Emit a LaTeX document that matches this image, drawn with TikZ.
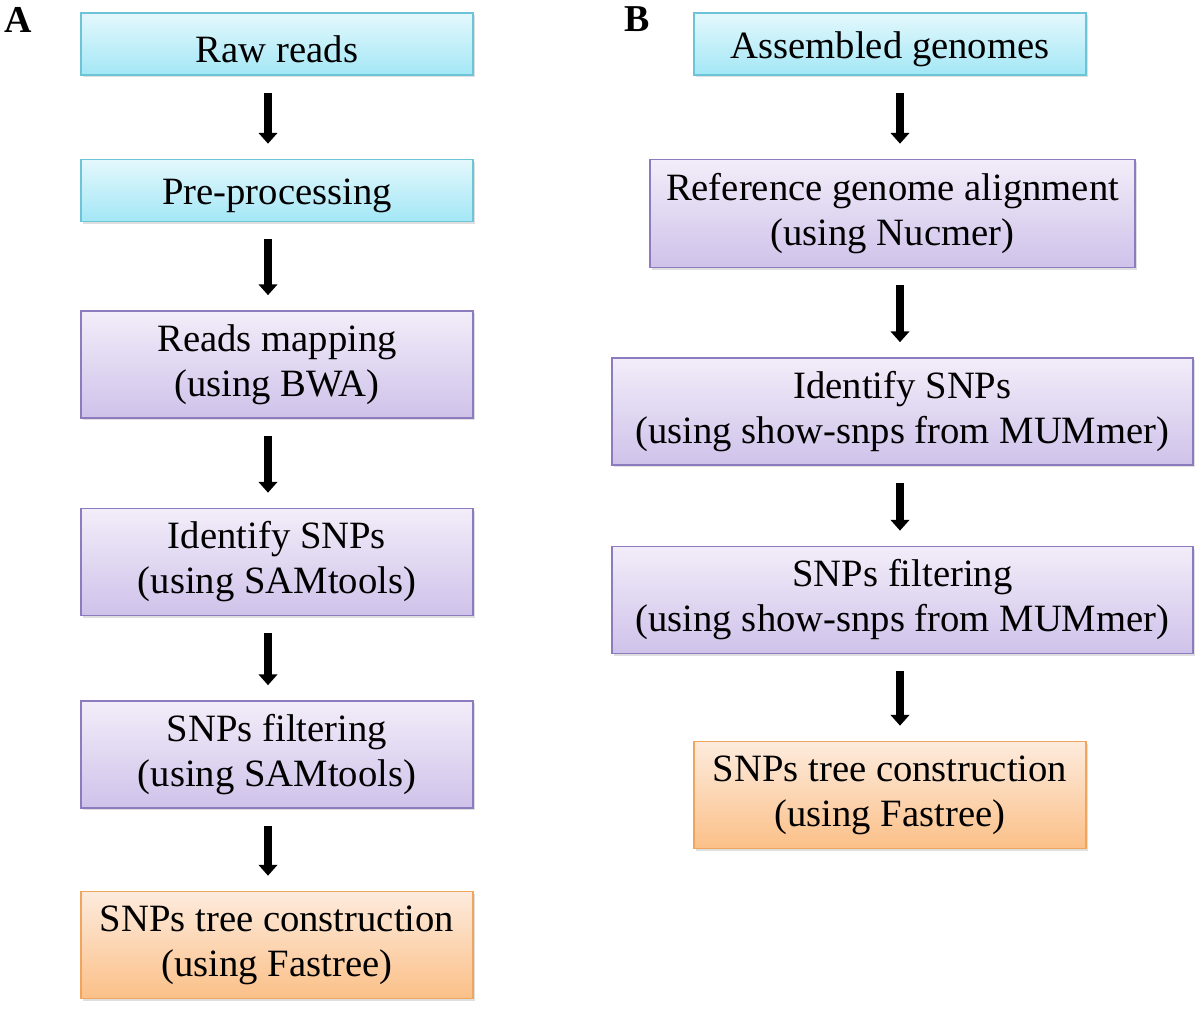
\documentclass[tikz,border=0pt]{standalone}
\usepackage{fontspec}
\setmainfont{Liberation Serif}
\usetikzlibrary{arrows.meta}
\usetikzlibrary{shadows}

\definecolor{cyanTop}{HTML}{E4F8FC}
\definecolor{cyanBot}{HTML}{A3E7F6}
\definecolor{cyanLine}{HTML}{6CC4D6}
\definecolor{lilacTop}{HTML}{F2EDF9}
\definecolor{lilacBot}{HTML}{CFC2EA}
\definecolor{lilacLine}{HTML}{8C7BBF}
\definecolor{peachTop}{HTML}{FDEBDD}
\definecolor{peachBot}{HTML}{FBC088}
\definecolor{peachLine}{HTML}{F0A55E}

\begin{document}
\begin{tikzpicture}[
	box/.style = {draw, line width = 0.9pt, align = center, inner sep = 0pt,
		font = \fontsize{27.5}{32}\selectfont,
		execute at begin node = {\rule{0pt}{0.95em}},
		drop shadow = {opacity = 0.25, shadow xshift = 0.06cm, shadow yshift = -0.06cm}},
	inbox/.style = {box, draw = cyanLine, top color = cyanTop, bottom color = cyanBot},
	toolbox/.style = {box, draw = lilacLine, top color = lilacTop, bottom color = lilacBot},
	outbox/.style = {box, draw = peachLine, top color = peachTop, bottom color = peachBot},
	flow/.style = {black, line width = 0.19cm, shorten <= 0.43cm, shorten >= 0.38cm,
		-{Triangle[width = 0.46cm, length = 0.27cm]}},
	panel/.style = {font = \fontsize{27}{27}\selectfont\bfseries, anchor = north west}
]
	\useasboundingbox (0, 0) rectangle (30, -25.225);

	% panel A
	\node[panel] (labA) at (-0.02, -0.05) {A};
	\node[inbox, minimum width = 9.8cm, minimum height = 1.55cm] (raw) at (6.925, -1.1) {Raw reads};
	\node[inbox, minimum width = 9.8cm, minimum height = 1.55cm] (pre) at (6.925, -4.7625) {Pre-processing};
	\node[toolbox, minimum width = 9.8cm, minimum height = 2.675cm] (map) at (6.925, -9.1125) {Reads mapping\\(using BWA)};
	\node[toolbox, minimum width = 9.8cm, minimum height = 2.675cm] (snpA) at (6.925, -14.05) {Identify SNPs\\(using SAMtools)};
	\node[toolbox, minimum width = 9.8cm, minimum height = 2.675cm] (filtA) at (6.925, -18.8625) {SNPs filtering\\(using SAMtools)};
	\node[outbox, minimum width = 9.8cm, minimum height = 2.675cm] (treeA) at (6.925, -23.625) {SNPs tree construction\\(using Fastree)};

	\coordinate (colA) at (6.7, 0);
	\draw[flow] (colA |- raw.south)--(colA |- pre.north);
	\draw[flow] (colA |- pre.south)--(colA |- map.north);
	\draw[flow] (colA |- map.south)--(colA |- snpA.north);
	\draw[flow] (colA |- snpA.south)--(colA |- filtA.north);
	\draw[flow] (colA |- filtA.south)--(colA |- treeA.north);

	% panel B
	\node[panel] (labB) at (15.5, -0.05) {B};
	\node[inbox, minimum width = 9.8cm, minimum height = 1.55cm] (asm) at (22.25, -1.1) {Assembled genomes};
	\node[toolbox, minimum width = 12.125cm, minimum height = 2.7cm] (align) at (22.3125, -5.3375) {Reference genome alignment\\(using Nucmer)};
	\node[toolbox, minimum width = 14.525cm, minimum height = 2.675cm] (snpB) at (22.5625, -10.2875) {Identify SNPs\\(using show-snps from MUMmer)};
	\node[toolbox, minimum width = 14.525cm, minimum height = 2.675cm] (filtB) at (22.5625, -15.0) {SNPs filtering\\(using show-snps from MUMmer)};
	\node[outbox, minimum width = 9.8cm, minimum height = 2.675cm] (treeB) at (22.25, -19.875) {SNPs tree construction\\(using Fastree)};

	\coordinate (colB) at (22.5, 0);
	\draw[flow] (colB |- asm.south)--(colB |- align.north);
	\draw[flow] (colB |- align.south)--(colB |- snpB.north);
	\draw[flow] (colB |- snpB.south)--(colB |- filtB.north);
	\draw[flow] (colB |- filtB.south)--(colB |- treeB.north);
\end{tikzpicture}
\end{document}
